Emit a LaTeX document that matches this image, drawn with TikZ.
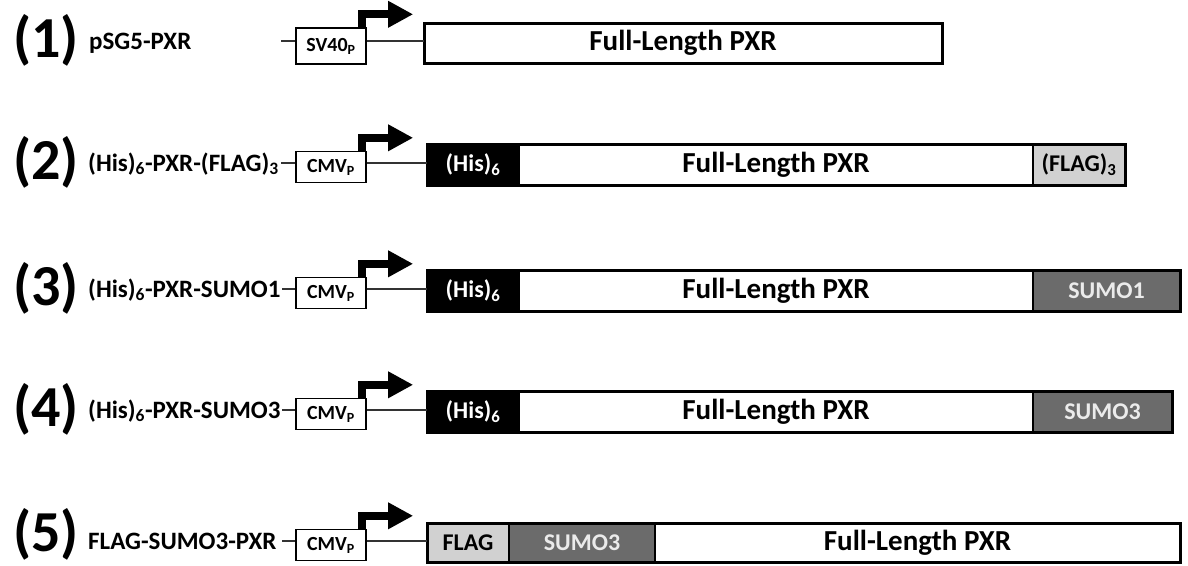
\documentclass[tikz,border=0pt]{standalone}
\usepackage{fontspec}
\setmainfont{Carlito}
\usetikzlibrary{arrows.meta, positioning}
\definecolor{flaggray}{gray}{0.82}
\definecolor{sumogray}{gray}{0.42}

\begin{document}
\begin{tikzpicture}[
		x=1pt, y=-1pt,
		nomor/.style={anchor=west, inner sep=0pt, font=\fontsize{58}{60}\selectfont\bfseries},
		konstruk/.style={anchor=west, inner sep=0pt, text height=17pt, text depth=5pt, font=\fontsize{25}{28}\selectfont\bfseries},
		promotor/.style={draw, line width=1.4pt, fill=white, minimum width=70pt, minimum height=31pt, inner sep=0pt, font=\fontsize{20}{22}\selectfont\bfseries},
		segmen/.style={draw, line width=2pt, minimum height=41pt, inner sep=0pt, outer sep=0pt, font=\fontsize{24}{26}\selectfont\bfseries},
		gen/.style={segmen, fill=white, font=\fontsize{29}{32}\selectfont\bfseries},
		his/.style={segmen, fill=black, text=white},
		flag/.style={segmen, fill=flaggray},
		sumo/.style={segmen, fill=sumogray, text=white!92!black},
		bingkai/.style={draw, line width=3pt},
		kawat/.style={draw=black!80, line width=1.2pt},
		tss/.style={line width=8pt, line join=miter, -{Triangle[length=25pt 0 0, width=25pt 0 0]}}
	]
	\useasboundingbox (0,0) rectangle (1188,565);

	% (1) pSG5-PXR
	\node[nomor] (n1) at (13,40) {(1)};
	\node[konstruk] (k1) at (89,43) {pSG5-PXR};
	\node[promotor, minimum height=36pt] (p1) at (331,46) {SV40\textsubscript{P}};
	\node[gen, minimum width=518pt, minimum height=40pt, anchor=west] (g1) at (424,43) {Full-Length PXR};
	\draw[bingkai] (g1.north west) rectangle (g1.south east);
	\coordinate (s1) at (281,41);
	\draw[kawat] (s1) -- (s1 -| p1.west);
	\draw[kawat] (p1.east |- s1) -- (s1 -| g1.west);
	\draw[tss] ([xshift=-4.5pt]p1.north east) |- ++(51,-13);

	% (2) (His)6-PXR-(FLAG)3
	\node[nomor] (n2) at (13,162) {(2)};
	\node[konstruk] (k2) at (88,165) {(His)\textsubscript{6}-PXR-(FLAG)\textsubscript{3}};
	\node[promotor] (p2) at (331,167) {CMV\textsubscript{P}};
	\node[his, minimum width=92pt, anchor=west] (h2) at (427,165) {(His)\textsubscript{6}};
	\node[gen, minimum width=514pt, right=0pt of h2] (g2) {Full-Length PXR};
	\node[flag, minimum width=92pt, right=0pt of g2] (t2) {(FLAG)\textsubscript{3}};
	\draw[bingkai] (h2.north west) rectangle (t2.south east);
	\coordinate (s2) at (281,163);
	\draw[kawat] (s2) -- (s2 -| p2.west);
	\draw[kawat] (p2.east |- s2) -- (s2 -| h2.west);
	\draw[tss] ([xshift=-4.5pt]p2.north east) |- ++(51,-13);

	% (3) (His)6-PXR-SUMO1
	\node[nomor] (n3) at (13,288) {(3)};
	\node[konstruk] (k3) at (88,291) {(His)\textsubscript{6}-PXR-SUMO1};
	\node[promotor] (p3) at (331,293) {CMV\textsubscript{P}};
	\node[his, minimum width=92pt, anchor=west] (h3) at (427,291) {(His)\textsubscript{6}};
	\node[gen, minimum width=514pt, right=0pt of h3] (g3) {Full-Length PXR};
	\node[sumo, minimum width=147pt, right=0pt of g3] (t3) {SUMO1};
	\draw[bingkai] (h3.north west) rectangle (t3.south east);
	\coordinate (s3) at (282,289);
	\draw[kawat] (s3) -- (s3 -| p3.west);
	\draw[kawat] (p3.east |- s3) -- (s3 -| h3.west);
	\draw[tss] ([xshift=-4.5pt]p3.north east) |- ++(51,-13);

	% (4) (His)6-PXR-SUMO3
	\node[nomor] (n4) at (13,409) {(4)};
	\node[konstruk] (k4) at (88,412) {(His)\textsubscript{6}-PXR-SUMO3};
	\node[promotor] (p4) at (331,414) {CMV\textsubscript{P}};
	\node[his, minimum width=92pt, anchor=west] (h4) at (427,412) {(His)\textsubscript{6}};
	\node[gen, minimum width=514pt, right=0pt of h4] (g4) {Full-Length PXR};
	\node[sumo, minimum width=139pt, right=0pt of g4] (t4) {SUMO3};
	\draw[bingkai] (h4.north west) rectangle (t4.south east);
	\coordinate (s4) at (282,410);
	\draw[kawat] (s4) -- (s4 -| p4.west);
	\draw[kawat] (p4.east |- s4) -- (s4 -| h4.west);
	\draw[tss] ([xshift=-4.5pt]p4.north east) |- ++(51,-13);

	% (5) FLAG-SUMO3-PXR
	\node[nomor] (n5) at (13,534) {(5)};
	\node[konstruk] (k5) at (88,543) {FLAG-SUMO3-PXR};
	\node[promotor] (p5) at (331,545) {CMV\textsubscript{P}};
	\node[flag, minimum width=82pt, minimum height=39pt, anchor=west] (f5) at (427,543) {FLAG};
	\node[sumo, minimum width=146pt, minimum height=39pt, right=0pt of f5] (u5) {SUMO3};
	\node[gen, minimum width=525pt, minimum height=39pt, right=0pt of u5] (g5) {Full-Length PXR};
	\draw[bingkai] (f5.north west) rectangle (g5.south east);
	\coordinate (s5) at (282,541);
	\draw[kawat] (s5) -- (s5 -| p5.west);
	\draw[kawat] (p5.east |- s5) -- (s5 -| f5.west);
	\draw[tss] ([xshift=-4.5pt]p5.north east) |- ++(51,-13);
\end{tikzpicture}
\end{document}
